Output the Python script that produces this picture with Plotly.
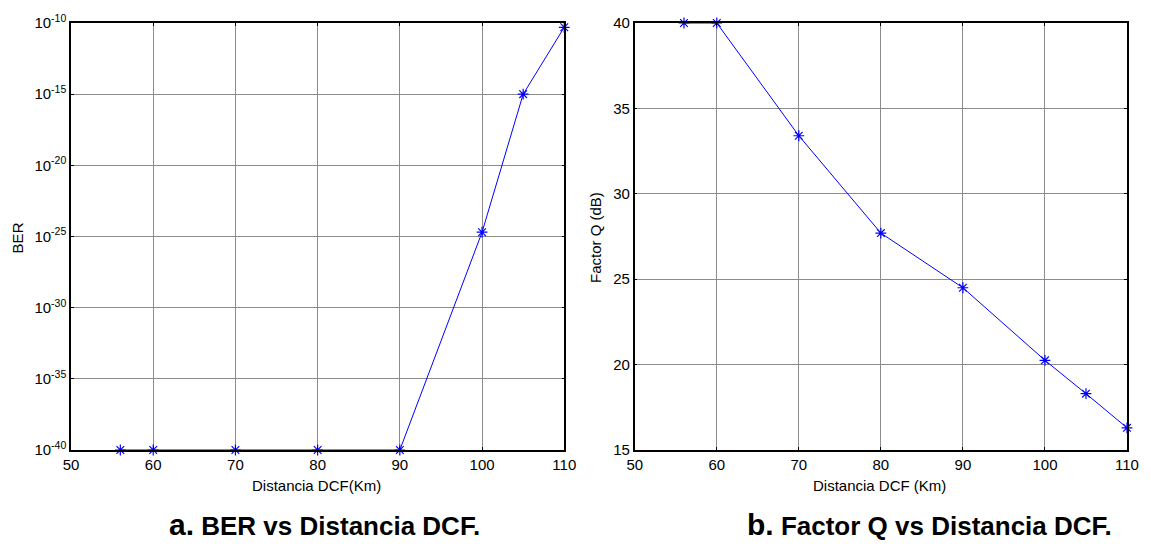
import plotly.graph_objects as go

# ---- data ----
distancia_km = [56, 60, 70, 80, 90, 100, 105, 110]
ber = [1e-40, 1e-40, 1e-40, 1e-40, 1e-40, 2e-25, 1e-15, 5e-11]
factor_q_db = [40.0, 40.0, 33.4, 27.7, 24.5, 20.25, 18.3, 16.3]

x_ticks = [50, 60, 70, 80, 90, 100, 110]
ber_tick_vals = [1e-40, 1e-35, 1e-30, 1e-25, 1e-20, 1e-15, 1e-10]
ber_tick_text = ["10<sup>-40</sup>", "10<sup>-35</sup>", "10<sup>-30</sup>",
                 "10<sup>-25</sup>", "10<sup>-20</sup>", "10<sup>-15</sup>",
                 "10<sup>-10</sup>"]
q_ticks = [15, 20, 25, 30, 35, 40]

FONT = "Liberation Sans, Arial, sans-serif"
BLUE = "#0000ff"
GRID = "#8c8c8c"

W, H = 1151, 546
ML, MR, MT, MB = 71, 16, 19, 96
PW = W - ML - MR
PH = H - MT - MB


def px_x(p):
    return (p - ML) / PW


def px_y(p):
    return 1 - (p - MT) / PH


fig = go.Figure()

marker = dict(symbol="asterisk-open", size=9, color=BLUE, line=dict(color=BLUE, width=1.2))

fig.add_trace(go.Scatter(x=distancia_km, y=ber, mode="lines+markers",
                         line=dict(color=BLUE, width=1), marker=marker,
                         cliponaxis=False, xaxis="x", yaxis="y", showlegend=False))
fig.add_trace(go.Scatter(x=distancia_km, y=factor_q_db, mode="lines+markers",
                         line=dict(color=BLUE, width=1), marker=marker,
                         cliponaxis=False, xaxis="x2", yaxis="y2", showlegend=False))

axis_common = dict(showline=True, linecolor="black", linewidth=1.5, mirror="ticks",
                   ticks="inside", ticklen=3, tickcolor="black",
                   showgrid=True, gridcolor=GRID, gridwidth=1, zeroline=False,
                   tickfont=dict(family=FONT, size=15, color="black"))

left_dom = [0, px_x(568)]
right_dom = [px_x(639), 1]

fig.update_layout(
    width=W, height=H,
    margin=dict(l=ML, r=MR, t=MT, b=MB),
    paper_bgcolor="white", plot_bgcolor="white",
    font=dict(family=FONT, size=15, color="black"),
    xaxis=dict(domain=left_dom, range=[50, 110], tickvals=x_ticks, anchor="y", **axis_common),
    yaxis=dict(type="log", range=[-40, -10], tickvals=ber_tick_vals, ticktext=ber_tick_text,
               anchor="x", **axis_common),
    xaxis2=dict(domain=right_dom, range=[50, 110], tickvals=x_ticks, anchor="y2", **axis_common),
    yaxis2=dict(range=[15, 40], tickvals=q_ticks, anchor="x2", **axis_common),
)

annotations = [
    dict(text="Distancia DCF(Km)", x=px_x(318.5), y=px_y(486), xref="paper", yref="paper",
         showarrow=False, xanchor="center", yanchor="middle", font=dict(size=15)),
    dict(text="Distancia DCF (Km)", x=px_x(886), y=px_y(486), xref="paper", yref="paper",
         showarrow=False, xanchor="center", yanchor="middle", font=dict(size=15)),
    dict(text="BER", x=px_x(18), y=px_y(236), xref="paper", yref="paper", textangle=-90,
         showarrow=False, xanchor="center", yanchor="middle", font=dict(size=15)),
    dict(text="Factor Q (dB)", x=px_x(600), y=px_y(236), xref="paper", yref="paper", textangle=-90,
         showarrow=False, xanchor="center", yanchor="middle", font=dict(size=15)),
    dict(text="<b><span style='font-size:30px'>a.</span> BER vs Distancia DCF.</b>",
         x=px_x(168), y=px_y(544), xref="paper", yref="paper", showarrow=False,
         xanchor="left", yanchor="bottom", font=dict(size=26)),
    dict(text="<b><span style='font-size:30px'>b.</span> Factor Q vs Distancia DCF.</b>",
         x=px_x(750), y=px_y(544), xref="paper", yref="paper", showarrow=False,
         xanchor="left", yanchor="bottom", font=dict(size=26)),
]
fig.update_layout(annotations=annotations)

fig.write_html("out.html")
